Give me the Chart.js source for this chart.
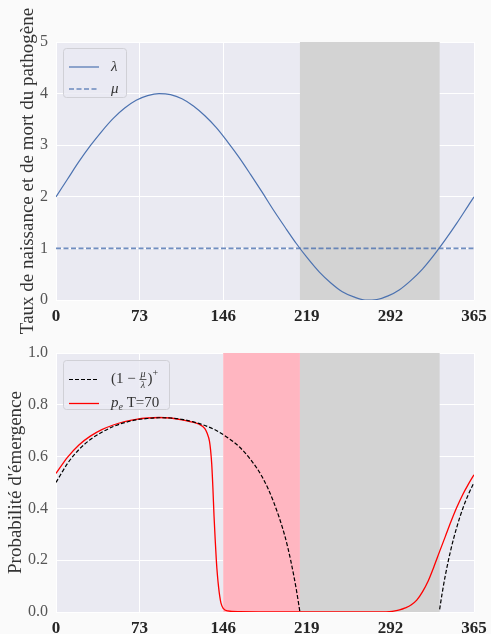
<!DOCTYPE html>
<html>
<head>
<meta charset="utf-8">
<script src="https://cdn.jsdelivr.net/npm/chart.js@4.4.0/dist/chart.umd.min.js"></script>
<style>
  html, body { margin: 0; padding: 0; background: #fafafa; }
  #wrap { position: relative; width: 491px; height: 634px; }
  canvas { display: block; position: absolute; left: 0; }
  #topChart { top: 0; }
  #bottomChart { top: 330px; }
</style>
</head>
<body>
<div id="wrap">
<canvas id="topChart" width="491" height="340"></canvas>
<canvas id="bottomChart" width="491" height="304"></canvas>
</div>
<script>
// ticks
const dayTicks = [0, 73, 146, 219, 292, 365];
const rateTicks = [0, 1, 2, 3, 4, 5];
const probTicks = [0, 0.2, 0.4, 0.6, 0.8, 1.0];

// birth rate lambda(t)
const lambdaDays = [0, 10, 20, 30, 40, 50, 60, 70, 80, 90, 100, 110, 120, 130, 140, 150, 160, 170, 180,
  190, 200, 210, 220, 230, 240, 250, 260, 270, 280, 290, 300, 310, 320, 330, 340, 350, 360, 365];
const lambdaVals = [2.00, 2.34, 2.68, 2.99, 3.27, 3.52, 3.72, 3.87, 3.96, 4.00, 3.98, 3.90, 3.76, 3.57, 3.34, 3.06, 2.76, 2.43, 2.09,
  1.74, 1.41, 1.09, 0.80, 0.54, 0.33, 0.16, 0.06, 0.00, 0.01, 0.08, 0.20, 0.38, 0.60, 0.87, 1.17, 1.49, 1.83, 2.00];

// death rate mu
const muDays = [0, 365];
const muVals = [1, 1];

// (1 - mu/lambda)+
const ratioDays = [0, 10, 20, 30, 40, 50, 60, 70, 80, 90, 100, 110, 120, 130, 140, 150, 160, 170, 180, 190, 200,
  205, 210, 212, 213, 274, 335, 337, 340, 345, 350, 355, 360, 365];
const ratioVals = [0.50, 0.573, 0.627, 0.666, 0.694, 0.716, 0.731, 0.742, 0.747, 0.750, 0.749, 0.744, 0.734, 0.720, 0.701, 0.673, 0.638, 0.588, 0.522, 0.425, 0.291,
  0.198, 0.083, 0.028, 0.0, null, 0.01, 0.067, 0.142, 0.245, 0.328, 0.397, 0.453, 0.50];

// p_e, T=70
const peDays = [0, 10, 20, 30, 40, 50, 60, 70, 80, 90, 100, 110,
  117, 125, 130, 132, 134, 135, 136, 137, 138, 139, 140, 141, 142, 143, 144, 146, 150, 160,
  200, 250, 285, 291, 296, 300,
  305, 310, 315, 320, 325, 330, 335, 340, 345, 350, 355, 360, 365];
const peVals = [0.535, 0.597, 0.645, 0.679, 0.704, 0.722, 0.735, 0.744, 0.749, 0.751, 0.749, 0.742,
  0.735, 0.725, 0.708, 0.69, 0.66, 0.625, 0.57, 0.48, 0.37, 0.28, 0.20, 0.14, 0.095, 0.06, 0.035, 0.014, 0.004, 0.001,
  0, 0, 0, 0.001, 0.004, 0.008,
  0.016, 0.027, 0.046, 0.078, 0.12, 0.175, 0.234, 0.292, 0.35, 0.404, 0.452, 0.493, 0.53];

// shaded periods
const greyZone = [213, 335];
const pinkZone = [146, 213];

const SERIF = '"Liberation Serif", "DejaVu Serif", serif';
Chart.defaults.font.family = SERIF;
Chart.defaults.color = '#333';

function pts(xs, ys) {
    return xs.map((x, i) => ({ x: x, y: ys[i] }));
}

function drawParts(ctx, parts, x, y) {
    parts.forEach(function(p) {
        if (p.frac) {
            ctx.font = p.font;
            var wa = ctx.measureText(p.frac[0]).width;
            var wb = ctx.measureText(p.frac[1]).width;
            var w = Math.max(wa, wb) + 2;
            ctx.fillText(p.frac[0], x + (w - wa) / 2, y - 5);
            ctx.fillText(p.frac[1], x + (w - wb) / 2, y + 6);
            ctx.fillRect(x, y - 0.4, w, 0.8);
            x += w + 1;
        } else {
            ctx.font = p.font;
            ctx.fillText(p.t, x, y + (p.dy || 0));
            x += ctx.measureText(p.t).width;
        }
    });
}

const plotDecor = {
    id: 'plotDecor',
    beforeDraw: function(chart) {
        var a = chart.chartArea, ctx = chart.ctx;
        ctx.save();
        ctx.fillStyle = '#eaeaf2';
        ctx.fillRect(a.left, a.top, a.right - a.left, a.bottom - a.top);
        ctx.restore();
    },
    beforeDatasetsDraw: function(chart, args, opts) {
        var a = chart.chartArea, ctx = chart.ctx, xs = chart.scales.x;
        ctx.save();
        (opts.zones || []).forEach(function(z) {
            var x0 = xs.getPixelForValue(z.range[0]);
            var x1 = xs.getPixelForValue(z.range[1]);
            ctx.fillStyle = z.color;
            ctx.fillRect(x0, a.top, x1 - x0, a.bottom - a.top);
        });
        ctx.restore();
    },
    afterDatasetsDraw: function(chart, args, opts) {
        var lg = opts.legend;
        if (!lg) return;
        var a = chart.chartArea, ctx = chart.ctx;
        var bx = a.left + 7, by = a.top + lg.top;
        ctx.save();
        ctx.beginPath();
        ctx.roundRect(bx + 0.5, by + 0.5, lg.width, lg.height, 3);
        ctx.fillStyle = 'rgba(234,234,242,0.8)';
        ctx.fill();
        ctx.strokeStyle = '#d0d0d6';
        ctx.lineWidth = 1;
        ctx.stroke();
        lg.items.forEach(function(item, i) {
            var ds = chart.data.datasets[item.index];
            var y = by + lg.rows[i];
            ctx.save();
            ctx.strokeStyle = ds.borderColor;
            ctx.lineWidth = ds.borderWidth;
            ctx.setLineDash(ds.borderDash || []);
            ctx.beginPath();
            ctx.moveTo(bx + 6, y);
            ctx.lineTo(bx + 36, y);
            ctx.stroke();
            ctx.restore();
            ctx.fillStyle = '#333';
            ctx.textBaseline = 'middle';
            drawParts(ctx, item.parts, bx + 48, y);
        });
        ctx.restore();
    }
};

function xAxis(height) {
    return {
        type: 'linear',
        min: 0,
        max: 365,
        afterBuildTicks: function(scale) { scale.ticks = dayTicks.map(v => ({ value: v })); },
        afterFit: function(scale) { scale.height = height; scale.paddingLeft = 0; scale.paddingRight = 0; },
        grid: { color: '#ffffff', lineWidth: 1, drawTicks: false },
        border: { display: false },
        ticks: {
            padding: 6,
            maxRotation: 0,
            autoSkip: false,
            color: '#262626',
            font: { size: 17, weight: 'bold' }
        }
    };
}

function yAxis(ticks, max, title, titlePad, fmt) {
    return {
        min: 0,
        max: max,
        afterBuildTicks: function(scale) { scale.ticks = ticks.map(v => ({ value: v })); },
        afterFit: function(scale) { scale.width = 56; scale.paddingTop = 0; scale.paddingBottom = 0; },
        grid: { color: '#ffffff', lineWidth: 1, drawTicks: false },
        border: { display: false },
        ticks: {
            padding: 8,
            color: '#555',
            font: { size: 16 },
            callback: fmt
        },
        title: {
            display: true,
            text: title,
            color: '#333',
            font: { size: 19 },
            padding: { top: titlePad, bottom: 0 }
        }
    };
}

var topChart = new Chart(document.getElementById('topChart').getContext('2d'), {
    type: 'line',
    data: {
        datasets: [
            {
                label: 'λ',
                data: pts(lambdaDays, lambdaVals),
                borderColor: '#4c72b0',
                borderWidth: 1.2,
                pointRadius: 0,
                cubicInterpolationMode: 'monotone',
                clip: 0
            },
            {
                label: 'μ',
                data: pts(muDays, muVals),
                borderColor: 'rgba(76,114,176,0.8)',
                borderWidth: 1.6,
                borderDash: [5, 2.5],
                pointRadius: 0,
                clip: 0
            }
        ]
    },
    options: {
        responsive: false,
        animation: false,
        layout: { padding: { left: 0, right: 17, top: 42, bottom: 10 } },
        scales: {
            x: xAxis(30),
            y: yAxis(rateTicks, 5, 'Taux de naissance et de mort du pathogène', 16.5, v => String(v))
        },
        plugins: {
            legend: { display: false },
            tooltip: { enabled: false },
            plotDecor: {
                zones: [{ range: greyZone, color: '#d3d3d3' }],
                legend: {
                    top: 6, width: 63, height: 49, rows: [19, 41],
                    items: [
                        { index: 0, parts: [{ t: 'λ', font: 'italic 15px ' + SERIF }] },
                        { index: 1, parts: [{ t: 'μ', font: 'italic 15px ' + SERIF }] }
                    ]
                }
            }
        }
    },
    plugins: [plotDecor]
});

var bottomChart = new Chart(document.getElementById('bottomChart').getContext('2d'), {
    type: 'line',
    data: {
        datasets: [
            {
                label: '(1 − μ/λ)+',
                data: pts(ratioDays, ratioVals),
                borderColor: '#000000',
                borderWidth: 1.2,
                borderDash: [4, 2],
                pointRadius: 0,
                spanGaps: false,
                cubicInterpolationMode: 'monotone',
                clip: 0
            },
            {
                label: 'pe T=70',
                data: pts(peDays, peVals),
                borderColor: '#ff0000',
                borderWidth: 1.3,
                pointRadius: 0,
                cubicInterpolationMode: 'monotone',
                clip: 0
            }
        ]
    },
    options: {
        responsive: false,
        animation: false,
        layout: { padding: { left: 0, right: 17, top: 23, bottom: 0 } },
        scales: {
            x: xAxis(22),
            y: yAxis(probTicks, 1, "Probabilité d'émergence", 4.5, v => v.toFixed(1))
        },
        plugins: {
            legend: { display: false },
            tooltip: { enabled: false },
            plotDecor: {
                zones: [
                    { range: pinkZone, color: '#ffb6c1' },
                    { range: greyZone, color: '#d3d3d3' }
                ],
                legend: {
                    top: 7, width: 106, height: 49, rows: [19.5, 43.5],
                    items: [
                        {
                            index: 0, parts: [
                                { t: '(1 − ', font: '15px ' + SERIF },
                                { frac: ['μ', 'λ'], font: 'italic 10px ' + SERIF },
                                { t: ')', font: '15px ' + SERIF },
                                { t: '+', font: '10px ' + SERIF, dy: -6 }
                            ]
                        },
                        {
                            index: 1, parts: [
                                { t: 'p', font: 'italic 15px ' + SERIF },
                                { t: 'e', font: 'italic 10px ' + SERIF, dy: 4 },
                                { t: ' T=70', font: '15px ' + SERIF }
                            ]
                        }
                    ]
                }
            }
        }
    },
    plugins: [plotDecor]
});
</script>
</body>
</html>
